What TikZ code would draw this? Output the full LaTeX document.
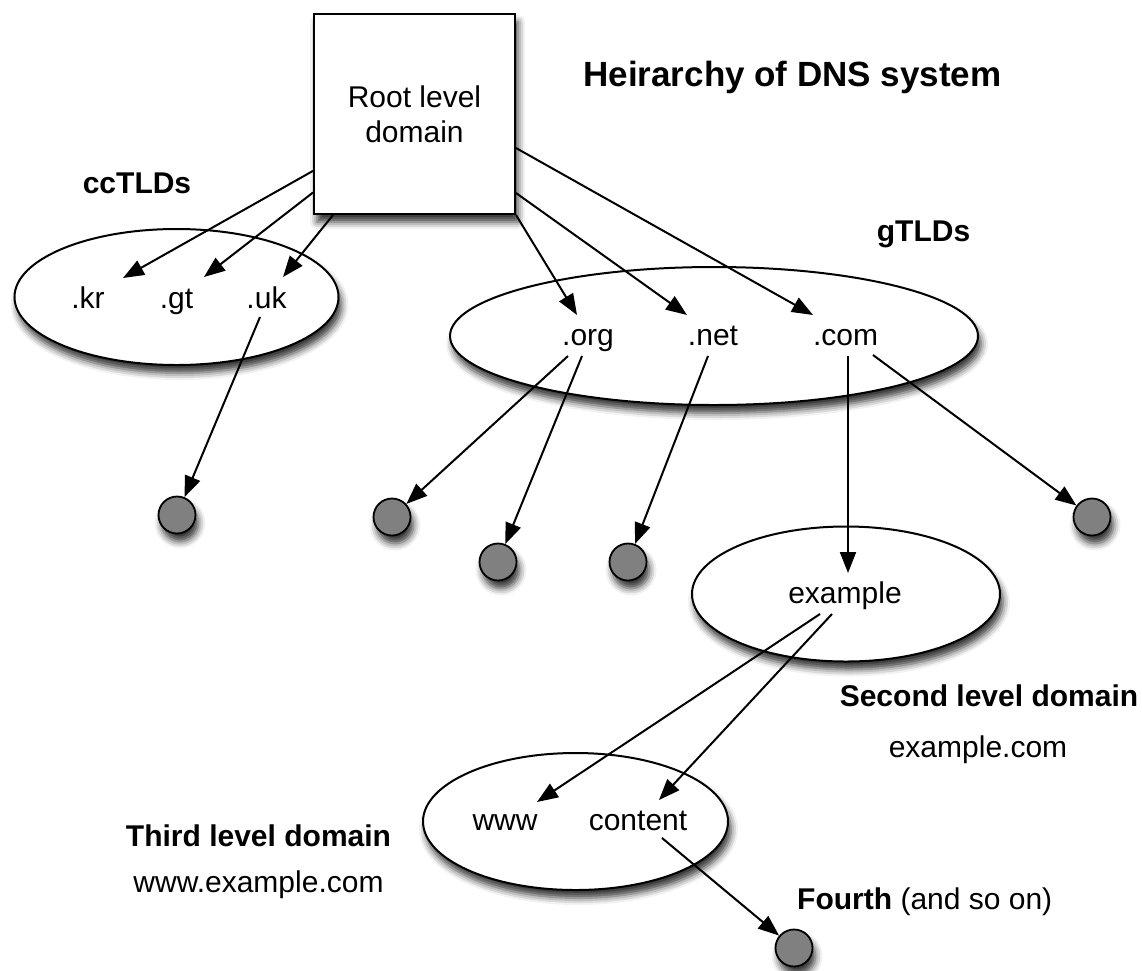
\documentclass[tikz,border=0pt]{standalone}
\usepackage{fontspec}
\setmainfont{Liberation Sans}
\usetikzlibrary{arrows.meta,shapes.geometric,calc,shadows.blur}
\definecolor{leafgray}{RGB}{128,128,128}
\tikzset{
  txt/.style={font=\fontsize{30}{35}\selectfont, inner sep=0pt, anchor=base},
  btxt/.style={font=\fontsize{30}{35}\selectfont\bfseries, inner sep=0pt, anchor=base},
  ttl/.style={font=\fontsize{35}{40}\selectfont\bfseries, inner sep=0pt, anchor=base},
  shad/.style={blur shadow={shadow xshift=3pt, shadow yshift=-8pt, shadow blur radius=7pt, shadow opacity=80}},
  oval/.style={ellipse, draw, line width=2pt, fill=white, inner sep=0pt, shad},
  leaf/.style={circle, draw, line width=1.8pt, fill=leafgray, minimum size=37pt, inner sep=0pt, shad},
  arr/.style={line width=2pt, -{Triangle[length=21pt,width=16pt]}},
}
\begin{document}
\begin{tikzpicture}[x=1pt,y=-1pt]
\useasboundingbox (0,0) rectangle (1142,970);

% ellipses
\node[oval, minimum width=324pt, minimum height=136pt] (cc) at (176.5,297) {};
\node[oval, minimum width=528pt, minimum height=138pt] (gt) at (714,336) {};
\node[oval, minimum width=308pt, minimum height=135pt] (ex) at (846,594) {};
\node[oval, minimum width=305pt, minimum height=137pt] (th) at (575.5,821.5) {};

% root box
\node[draw, line width=2pt, fill=white, minimum width=201pt, minimum height=200pt, align=center,
      font=\fontsize{30}{35}\selectfont, shad] (root) at (414.5,114) {Root level\\domain};

% leaves
\node[leaf] (l1) at (177,515) {};
\node[leaf] (l2) at (392,517) {};
\node[leaf] (l3) at (498,562) {};
\node[leaf] (l4) at (628,562) {};
\node[leaf] (l5) at (1092,517) {};
\node[leaf] (l6) at (794,948) {};

% labels
\node[ttl] (title) at (792.5,86) {Heirarchy of DNS system};
\node[btxt] (cclab) at (137,193) {ccTLDs};
\node[btxt] (glab) at (923.5,241) {gTLDs};
\node[btxt] (sld) at (989,706) {Second level domain};
\node[txt] (sldex) at (978,757) {example.com};
\node[btxt] (tld) at (258.5,846) {Third level domain};
\node[txt] (tldex) at (258.5,892) {www.example.com};
\node[txt, anchor=base west] (fourth) at (797,909) {\textbf{Fourth} (and so on)};

\node[txt] (kr) at (88,308) {.kr};
\node[txt] (gtl) at (176.5,308) {.gt};
\node[txt] (uk) at (266.5,308) {.uk};
\node[txt] (org) at (588,345) {.org};
\node[txt] (net) at (713,345) {.net};
\node[txt] (com) at (845.5,345) {.com};
\node[txt] (exl) at (845,603) {example};
\node[txt] (www) at (505,830) {www};
\node[txt] (cont) at (638,830) {content};

% connector end points
\coordinate (krT) at (123,278);
\coordinate (gtT) at (204,277);
\coordinate (ukT) at (283,277);
\coordinate (orgS) at ($(root.south east)$);
\coordinate (netS) at ($(root.east)+(0,79)$);
\coordinate (comS) at ($(root.east)+(0,34)$);
\coordinate (orgT) at (577,315);
\coordinate (netT) at (687,315);
\coordinate (comT) at (813,315);
\coordinate (ukS) at (260,317);
\coordinate (orgS1) at (568,356);
\coordinate (orgS2) at (582,356);
\coordinate (netS1) at (708,356);
\coordinate (comS1) at (848,356);
\coordinate (comS2) at (873,355);
\coordinate (exT) at (848,573);
\coordinate (exS1) at (820,614);
\coordinate (exS2) at (832,614);
\coordinate (wwwT) at (537,802);
\coordinate (contT) at (659,800);
\coordinate (contS) at (662,838);

% connectors
\draw[arr] (root) -- (krT);
\draw[arr] (root) -- (gtT);
\draw[arr] (root) -- (ukT);
\draw[arr] (orgS) -- (orgT);
\draw[arr] (netS) -- (netT);
\draw[arr] (comS) -- (comT);
\draw[arr] (ukS) -- (l1);
\draw[arr] (orgS1) -- (l2);
\draw[arr] (orgS2) -- (l3);
\draw[arr] (netS1) -- (l4);
\draw[arr] (comS2) -- (l5);
\draw[arr] (comS1) -- (exT);
\draw[arr] (exS1) -- (wwwT);
\draw[arr] (exS2) -- (contT);
\draw[arr] (contS) -- (l6);
\end{tikzpicture}
\end{document}
